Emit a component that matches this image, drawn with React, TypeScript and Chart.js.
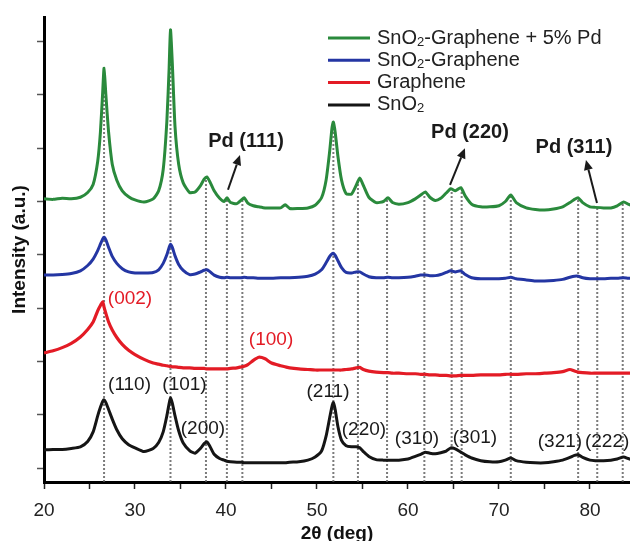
import React, { useEffect, useRef } from "react";
import { Chart, registerables } from "chart.js";

Chart.register(...registerables);

// shared 2θ grid (deg)
const twoTheta = [
  20, 21, 22, 23, 24, 24.8, 25.4, 25.9, 26.2, 26.45, 26.6, 26.8, 27.1, 27.5, 28, 28.6, 29.3, 30, 31, 32,
  32.6, 33.1, 33.5, 33.75, 33.9, 34.1, 34.4, 34.8, 35.3, 36, 36.6, 37.2, 37.6, 37.9, 38.2, 38.7, 39.3, 39.8, 40.1, 40.5,
  41.2, 41.7, 42.0, 42.4, 43, 43.6, 44.3, 45, 46, 46.5, 47, 48, 49, 49.8, 50.5, 51, 51.4, 51.65, 51.8, 52,
  52.3, 52.7, 53.2, 53.8, 54.3, 54.7, 55.1, 55.7, 56.5, 57.3, 57.8, 58.3, 59, 60, 60.8, 61.4, 61.9, 62.4, 63, 63.6,
  64.2, 64.7, 65.2, 65.8, 66.3, 67, 68, 69, 70, 70.7, 71.3, 71.9, 73, 74, 75, 76, 77, 77.8, 78.3, 78.7,
  79.2, 80, 80.6, 81.5, 82.3, 83, 83.7, 84.2, 84.6,
];

// SnO2-Graphene + 5% Pd (offset trace)
const sno2GraphenePd = [
  5.05, 5.04, 5.06, 5.05, 5.08, 5.17, 5.32, 5.75, 6.3, 7.05, 7.5, 7.0, 6.3, 5.7, 5.4, 5.2, 5.09, 5.03, 4.99, 5.05,
  5.2, 5.6, 6.5, 7.5, 8.22, 7.6, 6.4, 5.7, 5.35, 5.17, 5.18, 5.3, 5.42, 5.46, 5.38, 5.2, 5.06, 5.0, 5.07, 4.98,
  4.96, 5.03, 5.07, 4.97, 4.92, 4.9, 4.88, 4.88, 4.88, 4.94, 4.87, 4.87, 4.88, 4.93, 5.07, 5.4, 5.95, 6.38, 6.49, 6.3,
  5.85, 5.4, 5.15, 5.14, 5.3, 5.44, 5.3, 5.08, 4.98, 5.0, 5.07, 4.98, 4.95, 4.98, 5.05, 5.12, 5.18, 5.08, 5.02, 5.06,
  5.16, 5.24, 5.2, 5.26, 5.1, 4.95, 4.9, 4.9, 4.92, 5.0, 5.12, 4.98, 4.88, 4.85, 4.84, 4.86, 4.9, 4.98, 5.04, 5.07,
  4.98, 4.9, 4.89, 4.88, 4.88, 4.92, 4.99, 4.95, 4.92,
];

// SnO2-Graphene
const sno2Graphene = [
  3.62, 3.62, 3.63, 3.65, 3.7, 3.8, 3.92, 4.08, 4.2, 4.3, 4.33, 4.28, 4.14, 3.97, 3.84, 3.74, 3.68, 3.66, 3.66, 3.67,
  3.72, 3.84, 4.0, 4.14, 4.2, 4.14, 3.98, 3.82, 3.71, 3.63, 3.64, 3.68, 3.71, 3.72, 3.69, 3.62, 3.58, 3.57, 3.58, 3.57,
  3.57, 3.57, 3.58, 3.57, 3.57, 3.56, 3.56, 3.56, 3.57, 3.57, 3.57, 3.58, 3.6, 3.64, 3.72, 3.85, 3.97, 4.02, 4.03, 3.99,
  3.89, 3.76, 3.67, 3.66, 3.68, 3.68, 3.64, 3.59, 3.57, 3.57, 3.58, 3.57, 3.57, 3.58, 3.6, 3.62, 3.62, 3.61, 3.61, 3.63,
  3.67, 3.7, 3.68, 3.7, 3.63, 3.57, 3.55, 3.55, 3.55, 3.56, 3.58, 3.55, 3.53, 3.51, 3.51, 3.52, 3.54, 3.58, 3.6, 3.6,
  3.57, 3.55, 3.55, 3.55, 3.56, 3.56, 3.57, 3.56, 3.56,
];

// Graphene
const graphene = [
  2.16, 2.2, 2.26, 2.34, 2.46, 2.6, 2.74, 2.95, 3.05, 3.12, 3.02, 2.9, 2.74, 2.59, 2.45, 2.32, 2.21, 2.13, 2.04, 1.97,
  1.95, 1.93, 1.92, 1.91, 1.91, 1.9, 1.9, 1.89, 1.88, 1.88, 1.87, 1.87, 1.87, 1.86, 1.86, 1.86, 1.86, 1.86, 1.86, 1.87,
  1.88, 1.9, 1.91, 1.94, 2.02, 2.08, 2.05, 1.97, 1.92, 1.9, 1.88, 1.86, 1.85, 1.84, 1.84, 1.84, 1.84, 1.84, 1.84, 1.84,
  1.84, 1.84, 1.85, 1.86, 1.88, 1.89, 1.85, 1.82, 1.8, 1.79, 1.79, 1.78, 1.78, 1.77, 1.77, 1.76, 1.76, 1.75, 1.75, 1.74,
  1.74, 1.73, 1.73, 1.74, 1.74, 1.74, 1.75, 1.75, 1.75, 1.76, 1.76, 1.76, 1.77, 1.77, 1.78, 1.79, 1.81, 1.85, 1.82, 1.8,
  1.79, 1.78, 1.78, 1.78, 1.78, 1.78, 1.78, 1.78, 1.78,
];

// SnO2
const sno2 = [
  0.34, 0.35, 0.35, 0.37, 0.4, 0.5, 0.68, 0.98, 1.14, 1.25, 1.28, 1.23, 1.1, 0.92, 0.72, 0.55, 0.44, 0.38, 0.31, 0.37,
  0.48, 0.68, 0.98, 1.21, 1.32, 1.22, 0.98, 0.7, 0.47, 0.33, 0.28, 0.37, 0.46, 0.49, 0.42, 0.26, 0.18, 0.15, 0.13, 0.12,
  0.11, 0.11, 0.1, 0.1, 0.1, 0.1, 0.1, 0.1, 0.1, 0.1, 0.11, 0.12, 0.15, 0.21, 0.32, 0.6, 0.95, 1.16, 1.23, 1.1,
  0.78, 0.52, 0.42, 0.4, 0.4, 0.38, 0.31, 0.22, 0.16, 0.15, 0.15, 0.15, 0.15, 0.17, 0.22, 0.26, 0.3, 0.28, 0.27, 0.29,
  0.32, 0.38, 0.36, 0.3, 0.25, 0.19, 0.14, 0.12, 0.12, 0.15, 0.19, 0.14, 0.11, 0.1, 0.1, 0.12, 0.15, 0.2, 0.24, 0.25,
  0.2, 0.15, 0.14, 0.14, 0.15, 0.17, 0.21, 0.18, 0.16,
];

// reference (dotted) lines
const refPositions = [26.6, 33.9, 37.8, 40.1, 41.8, 51.8, 54.5, 57.7, 61.8, 64.8, 65.9, 71.3, 78.7, 80.8, 83.6];
const refTops = [7.45, 8.15, 5.45, 5.05, 5.05, 6.45, 5.4, 5.05, 5.15, 5.22, 5.22, 5.1, 5.05, 4.88, 4.97];

// axis ticks
const xTickValues = [20, 25, 30, 35, 40, 45, 50, 55, 60, 65, 70, 75, 80];
const yTickValues = [0, 1, 2, 3, 4, 5, 6, 7, 8];
const X_MIN = 20;
const X_MAX = 84.4;
const Y_MIN = -0.26;
const Y_MAX = 8.46;

// hkl annotations (data coords)
const hklText = ["(110)", "(101)", "(200)", "(211)", "(220)", "(310)", "(301)", "(321)"];
const hklX = [29.4, 35.44, 37.47, 51.21, 55.16, 60.99, 67.36, 76.7];
const hklY = [1.56, 1.56, 0.73, 1.43, 0.72, 0.55, 0.57, 0.49];
const hklEdgeText = "(222)";
const hklEdgeX = 79.45;
const hklEdgeY = 0.49;
const grapheneText = ["(002)", "(100)"];
const grapheneX = [29.45, 44.95];
const grapheneY = [3.17, 2.4];
const pdText = ["Pd (111)", "Pd (220)", "Pd (311)"];
const pdX = [42.2, 66.81, 78.24];
const pdY = [6.12, 6.3, 6.02];
const arrowTailX = [40.22, 64.62, 80.77];
const arrowTailY = [5.22, 5.31, 4.97];
const arrowHeadX = [41.54, 66.26, 79.56];
const arrowHeadY = [5.87, 6.0, 5.78];

// legend
const legendMain = ["SnO", "SnO", "Graphene", "SnO"];
const legendSub = ["2", "2", "", "2"];
const legendRest = ["-Graphene + 5% Pd", "-Graphene", "", ""];

const GREEN = "#2a8a3c";
const BLUE = "#2436a3";
const RED = "#e31b25";
const BLACK = "#151515";
const legendColors = [GREEN, BLUE, RED, BLACK];

const FONT = "'Liberation Sans', Arial, sans-serif";

const overlayPlugin = {
  id: "overlay",
  afterDatasetsDraw(chart: any) {
    const { ctx, scales } = chart;
    const xs = scales.x;
    const ys = scales.y;
    const px = (v: number) => xs.getPixelForValue(v);
    const py = (v: number) => ys.getPixelForValue(v);
    ctx.save();
    ctx.textBaseline = "middle";
    ctx.textAlign = "center";
    ctx.font = `19px ${FONT}`;
    ctx.fillStyle = "#1a1a1a";
    hklText.forEach((t, i) => ctx.fillText(t, px(hklX[i]), py(hklY[i])));
    ctx.textAlign = "left";
    ctx.fillText(hklEdgeText, px(hklEdgeX), py(hklEdgeY));
    ctx.textAlign = "center";
    ctx.fillStyle = RED;
    grapheneText.forEach((t, i) => ctx.fillText(t, px(grapheneX[i]), py(grapheneY[i])));
    ctx.font = `bold 20px ${FONT}`;
    ctx.fillStyle = "#1a1a1a";
    pdText.forEach((t, i) => ctx.fillText(t, px(pdX[i]), py(pdY[i])));
    // arrows
    ctx.strokeStyle = "#1a1a1a";
    ctx.fillStyle = "#1a1a1a";
    ctx.lineWidth = 2;
    arrowTailX.forEach((_, i) => {
      const x1 = px(arrowTailX[i]);
      const y1 = py(arrowTailY[i]);
      const x2 = px(arrowHeadX[i]);
      const y2 = py(arrowHeadY[i]);
      const ang = Math.atan2(y2 - y1, x2 - x1);
      const len = 10;
      const hw = 4.5;
      const bx = x2 - len * Math.cos(ang);
      const by = y2 - len * Math.sin(ang);
      ctx.beginPath();
      ctx.moveTo(x1, y1);
      ctx.lineTo(bx, by);
      ctx.stroke();
      ctx.beginPath();
      ctx.moveTo(x2, y2);
      ctx.lineTo(bx + hw * Math.sin(ang), by - hw * Math.cos(ang));
      ctx.lineTo(bx - hw * Math.sin(ang), by + hw * Math.cos(ang));
      ctx.closePath();
      ctx.fill();
    });
    // legend
    const lx0 = 328;
    const lx1 = 370;
    const tx = 377;
    const rowY0 = 38;
    const rowH = 22.3;
    legendMain.forEach((m, i) => {
      const yy = rowY0 + i * rowH;
      ctx.strokeStyle = legendColors[i];
      ctx.lineWidth = 3;
      ctx.beginPath();
      ctx.moveTo(lx0, yy);
      ctx.lineTo(lx1, yy);
      ctx.stroke();
      ctx.fillStyle = "#222";
      ctx.textAlign = "left";
      ctx.textBaseline = "middle";
      ctx.font = `20px ${FONT}`;
      let cx = tx;
      ctx.fillText(m, cx, yy);
      cx += ctx.measureText(m).width;
      if (legendSub[i]) {
        ctx.font = `13px ${FONT}`;
        ctx.fillText(legendSub[i], cx, yy + 4);
        cx += ctx.measureText(legendSub[i]).width;
        ctx.font = `20px ${FONT}`;
      }
      if (legendRest[i]) ctx.fillText(legendRest[i], cx, yy);
    });
    ctx.restore();
  },
};

export default function App() {
  const ref = useRef<HTMLCanvasElement | null>(null);
  useEffect(() => {
    if (!ref.current) return;
    const series = [
      { data: sno2GraphenePd, color: GREEN, w: 3 },
      { data: sno2Graphene, color: BLUE, w: 3 },
      { data: graphene, color: RED, w: 3.2 },
      { data: sno2, color: BLACK, w: 3 },
    ];
    const datasets: any[] = series.map((s) => ({
      data: twoTheta.map((x, i) => ({ x, y: s.data[i] })),
      borderColor: s.color,
      borderWidth: s.w,
      pointRadius: 0,
      tension: 0.2,
      fill: false,
    }));
    refPositions.forEach((p, i) => {
      datasets.push({
        data: [
          { x: p, y: Y_MIN },
          { x: p, y: refTops[i] },
        ],
        borderColor: "rgba(90,90,90,0.8)",
        borderWidth: 2,
        borderDash: [2, 2],
        pointRadius: 0,
        fill: false,
      });
    });
    const chart = new Chart(ref.current, {
      type: "line",
      data: { datasets },
      options: {
        animation: false,
        responsive: false,
        devicePixelRatio: 1,
        layout: { padding: { top: 17, left: 0, right: 0, bottom: 0 } },
        plugins: { legend: { display: false }, tooltip: { enabled: false } },
        scales: {
          x: {
            type: "linear",
            min: X_MIN,
            max: X_MAX,
            afterFit: (s: any) => {
              s.height = 59;
            },
            afterBuildTicks: (s: any) => {
              s.ticks = xTickValues.map((v) => ({ value: v }));
            },
            ticks: {
              autoSkip: false,
              maxRotation: 0,
              padding: 10,
              color: "#222",
              font: { family: FONT, size: 19 },
              callback: (v: any) => (Number(v) % 10 === 0 ? String(v) : ""),
            },
            grid: { drawOnChartArea: false, drawTicks: true, tickLength: 7, tickColor: "#222", tickWidth: 1.5 },
            border: { display: true, color: "#000", width: 3 },
            title: {
              display: true,
              text: "2θ (deg)",
              color: "#111",
              font: { family: FONT, size: 19, weight: "bold", lineHeight: 0.74 },
              padding: { top: 0, bottom: 0 },
            },
          },
          y: {
            type: "linear",
            min: Y_MIN,
            max: Y_MAX,
            afterFit: (s: any) => {
              s.width = 44;
            },
            afterBuildTicks: (s: any) => {
              s.ticks = yTickValues.map((v) => ({ value: v }));
            },
            ticks: { display: false },
            grid: { drawOnChartArea: false, drawTicks: true, tickLength: 7, tickColor: "#555", tickWidth: 1.5 },
            border: { display: true, color: "#000", width: 3 },
            title: {
              display: true,
              text: "Intensity (a.u.)",
              color: "#111",
              font: { family: FONT, size: 19, weight: "bold" },
              padding: { top: 8.6, bottom: 0 },
            },
          },
        },
      },
      plugins: [overlayPlugin],
    });
    return () => chart.destroy();
  }, []);
  return (
    <div style={{ position: "absolute", left: 0, top: 0, width: 630, height: 541, background: "#fff" }}>
      <canvas ref={ref} width={630} height={541} style={{ display: "block" }} />
    </div>
  );
}
